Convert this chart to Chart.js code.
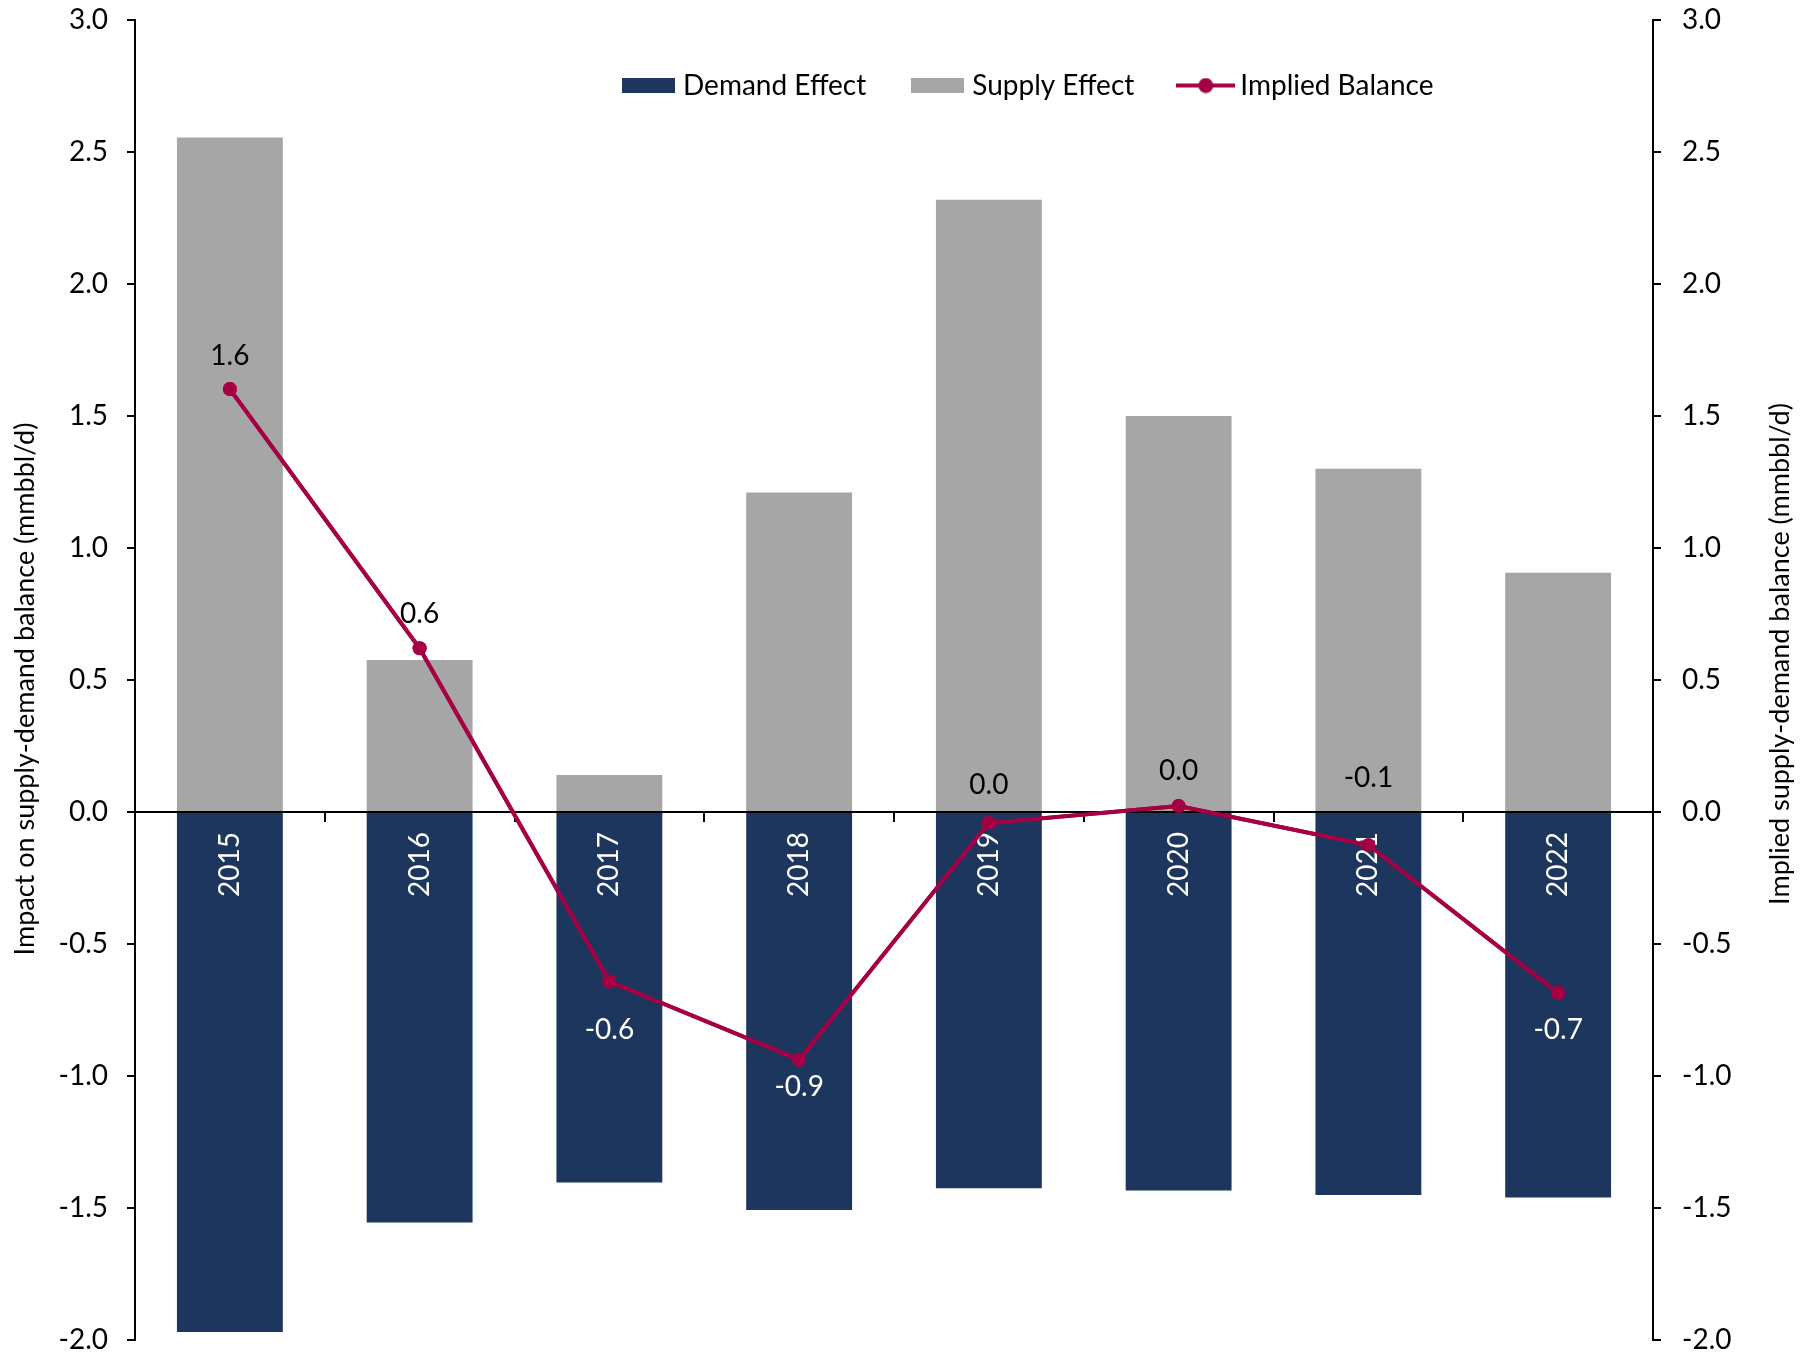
<!DOCTYPE html>
<html>
<head>
<meta charset="utf-8">
<script src="https://cdn.jsdelivr.net/npm/chart.js@4.4.0/dist/chart.umd.min.js"></script>
<style>
  html, body { margin: 0; padding: 0; background: #fff; }
  #wrap { width: 1800px; height: 1357px; }
</style>
</head>
<body>
<div id="wrap"><canvas id="balanceChart" width="1800" height="1357"></canvas></div>
<script>
// Data (mmbbl/d)
const years = ["2015", "2016", "2017", "2018", "2019", "2020", "2021", "2022"];
const demandEffect = [-1.97, -1.555, -1.403, -1.508, -1.425, -1.434, -1.451, -1.46];
const supplyEffect = [2.555, 0.576, 0.14, 1.21, 2.319, 1.5, 1.3, 0.906];
const impliedBalance = [1.602, 0.62, -0.642, -0.938, -0.042, 0.023, -0.125, -0.686];
const axisMin = -2;
const axisMax = 3;
const axisStep = 0.5;
// vertical offset (px) of each balance label from its point
const labelOffsets = [-33, -34, 48, 27, -38, -35, -67, 37];

const NAVY = "#1D365D";
const GREY = "#A6A6A6";
const CRIMSON = "#A50044";
const FONT = "Lato, 'Open Sans', sans-serif";

Chart.defaults.font.family = FONT;
Chart.defaults.font.size = 28;
Chart.defaults.color = "#000";

function fmt(v) {
  const s = Number(v).toFixed(1);
  return s === "-0.0" ? "0.0" : s;
}

// legend icons
function makeIcon(kind) {
  const c = document.createElement("canvas");
  const ctx = c.getContext("2d");
  if (kind === "line") {
    c.width = 59;
    c.height = 16;
    ctx.strokeStyle = CRIMSON;
    ctx.lineWidth = 4;
    ctx.beginPath();
    ctx.moveTo(0, 8);
    ctx.lineTo(59, 8);
    ctx.stroke();
    ctx.fillStyle = CRIMSON;
    ctx.beginPath();
    ctx.arc(29.5, 8, 7.5, 0, Math.PI * 2);
    ctx.fill();
  } else {
    c.width = 53;
    c.height = 15;
    ctx.fillStyle = kind;
    ctx.fillRect(0, 0, 53, 15);
  }
  return c;
}
const legendIcons = [makeIcon(NAVY), makeIcon(GREY), makeIcon("line")];

// legend sits inside the plot area, not above it
const legendPlacer = {
  id: "legendPlacer",
  afterInit(chart) {
    const lg = chart.legend;
    const fit = lg.fit;
    lg.fit = function () {
      fit.call(this);
      this.height = 0;
    };
  },
  afterLayout(chart) {
    const lg = chart.legend;
    const w = lg.right - lg.left;
    lg.left = 577;
    lg.right = lg.left + w;
    lg.top = 20.5;
    lg.bottom = lg.top + 120;
  },
};

// balance line on top of year labels, then its value labels, then axis titles
const overlay = {
  id: "overlay",
  afterDraw(chart) {
    const ctx = chart.ctx;
    const meta = chart.getDatasetMeta(2);
    ctx.save();
    meta.controller.draw();
    ctx.restore();

    ctx.save();
    ctx.font = "28px " + FONT;
    ctx.textAlign = "center";
    ctx.textBaseline = "middle";
    meta.data.forEach((pt, i) => {
      const dy = labelOffsets[i];
      ctx.fillStyle = dy > 0 ? "#fff" : "#000";
      ctx.fillText(fmt(impliedBalance[i]), pt.x, pt.y + dy);
    });
    ctx.restore();

    ctx.save();
    ctx.font = "27px " + FONT;
    ctx.fillStyle = "#000";
    ctx.textAlign = "center";
    ctx.textBaseline = "middle";
    ctx.translate(25, 689);
    ctx.rotate(-Math.PI / 2);
    ctx.fillText("Impact on supply-demand balance (mmbbl/d)", 0, 0);
    ctx.restore();

    ctx.save();
    ctx.font = "27px " + FONT;
    ctx.fillStyle = "#000";
    ctx.textAlign = "center";
    ctx.textBaseline = "middle";
    ctx.translate(1780, 654);
    ctx.rotate(-Math.PI / 2);
    ctx.fillText("Implied supply-demand balance (mmbbl/d)", 0, 0);
    ctx.restore();
  },
};

function yAxis(side, width) {
  return {
    position: side,
    min: axisMin,
    max: axisMax,
    stacked: side === "left",
    afterFit(scale) {
      scale.width = width;
      scale.paddingTop = 0;
      scale.paddingBottom = 0;
    },
    grid: {
      drawOnChartArea: false,
      drawTicks: true,
      tickLength: 8,
      color: "#000",
      lineWidth: 2,
    },
    border: { display: true, color: "#000", width: 2 },
    ticks: {
      stepSize: axisStep,
      padding: side === "left" ? 19 : 21,
      font: { size: 28 },
      color: "#000",
      callback: (v) => fmt(v),
    },
  };
}

const ctx = document.getElementById("balanceChart").getContext("2d");
const balanceChart = new Chart(ctx, {
  type: "bar",
  data: {
    labels: years,
    datasets: [
      {
        label: "Demand Effect",
        data: demandEffect,
        backgroundColor: NAVY,
        categoryPercentage: 1,
        barPercentage: 0.558,
        order: 1,
      },
      {
        label: "Supply Effect",
        data: supplyEffect,
        backgroundColor: GREY,
        categoryPercentage: 1,
        barPercentage: 0.558,
        order: 1,
      },
      {
        type: "line",
        label: "Implied Balance",
        data: impliedBalance,
        yAxisID: "y1",
        borderColor: CRIMSON,
        backgroundColor: CRIMSON,
        borderWidth: 4,
        pointRadius: 7,
        pointBorderWidth: 0,
        pointBackgroundColor: CRIMSON,
        tension: 0,
        order: 0,
      },
    ],
  },
  options: {
    responsive: false,
    animation: false,
    devicePixelRatio: 1,
    layout: { autoPadding: false, padding: { top: 20, bottom: 17, left: 0, right: 0 } },
    plugins: {
      tooltip: { enabled: false },
      legend: {
        position: "top",
        align: "start",
        labels: {
          usePointStyle: true,
          pointStyleWidth: 41,
          boxHeight: 16,
          padding: 51,
          color: "#000",
          font: { size: 28 },
          sort: (a, b) => a.datasetIndex - b.datasetIndex,
          generateLabels(chart) {
            const items = Chart.defaults.plugins.legend.labels.generateLabels(chart);
            items.forEach((it) => {
              it.pointStyle = legendIcons[it.datasetIndex];
            });
            return items;
          },
        },
      },
    },
    scales: {
      x: {
        stacked: true,
        position: { y: 0 },
        offset: true,
        grid: {
          display: true,
          offset: true,
          drawOnChartArea: false,
          drawTicks: true,
          tickLength: 9,
          color: "#000",
          lineWidth: 2,
        },
        border: { display: true, color: "#000", width: 2, z: 1 },
        ticks: {
          color: "#fff",
          font: { size: 28 },
          minRotation: 90,
          maxRotation: 90,
          autoSkip: false,
          padding: 11,
          z: 1,
        },
      },
      y: yAxis("left", 135),
      y1: yAxis("right", 147),
    },
  },
  plugins: [legendPlacer, overlay],
});
</script>
</body>
</html>
